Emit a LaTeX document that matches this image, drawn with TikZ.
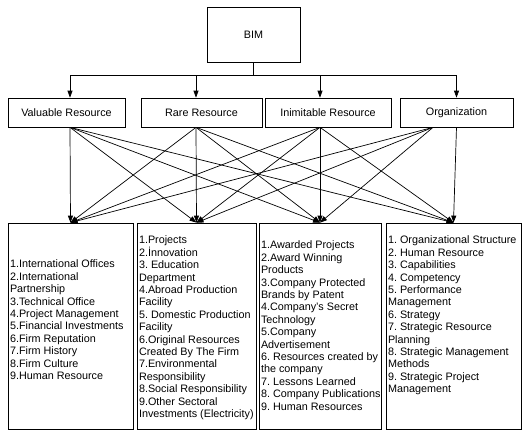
\documentclass[tikz,border=0pt]{standalone}
\usepackage{fontspec}
\setmainfont{Liberation Sans}
\usetikzlibrary{positioning,arrows.meta}

\begin{document}
\begin{tikzpicture}[x=1pt, y=-1pt, line width=0.7pt,
    font=\fontsize{10.8}{12.4}\selectfont\frenchspacing,
    box node/.style={draw, rectangle, inner sep=0pt},
    list node/.style={align=left, inner sep=0pt},
    link/.style={-{Triangle[length=7pt, width=5pt]}}]

    \useasboundingbox (0,0) rectangle (522,432);

    % Top node
    \node[box node, minimum width=93pt, minimum height=55pt] (bim) at (253.5,34.5) {BIM};

    % Resource nodes
    \node[box node, minimum width=117pt, minimum height=29pt] (vr) at (66.5,112.5) {Valuable Resource};
    \node[box node, minimum width=121pt, minimum height=29pt] (rr) at (201.5,112.5) {Rare Resource};
    \node[box node, minimum width=126pt, minimum height=29pt] (ir) at (328,112.5) {Inimitable Resource};
    \node[box node, minimum width=113pt, minimum height=29pt] (org) at (456.5,112.5) {Organization};

    % List boxes
    \node[box node, minimum width=125pt, minimum height=206pt] (l1) at (70.5,326) {};
    \node[box node, minimum width=119pt, minimum height=206pt] (l2) at (196.5,326) {};
    \node[box node, minimum width=122pt, minimum height=206pt] (l3) at (320,326) {};
    \node[box node, minimum width=135pt, minimum height=206pt] (l4) at (453.5,326) {};

    \node[list node, below right=37pt and 2pt of l1.north west] (t1) {1.International Offices\\2.International\\Partnership\\3.Technical Office\\4.Project Management\\5.Financial Investments\\6.Firm Reputation\\7.Firm History\\8.Firm Culture\\9.Human Resource};
    \node[list node, below right=13pt and 2pt of l2.north west] (t2) {1.Projects\\2.İnnovation\\3. Education\\Department\\4.Abroad Production\\Facility\\5. Domestic Production\\Facility\\6.Original Resources\\Created By The Firm\\7.Environmental\\Responsibility\\8.Social Responsibility\\9.Other Sectoral\\Investments (Electricity)};
    \node[list node, below right=18pt and 2pt of l3.north west] (t3) {1.Awarded Projects\\2.Award Winning\\Products\\3.Company Protected\\Brands by Patent\\4.Company's Secret\\Technology\\5.Company\\Advertisement\\6. Resources created by\\the company\\7. Lessons Learned\\8. Company Publications\\9. Human Resources};
    \node[list node, below right=13pt and 2pt of l4.north west] (t4) {1. Organizational Structure\\2. Human Resource\\3. Capabilities\\4. Competency\\5. Performance\\Management\\6. Strategy\\7. Strategic Resource\\Planning\\8. Strategic Management\\Methods\\9. Strategic Project\\Management};

    % Source points
    \coordinate (s1) at ([xshift=3.5pt]vr.south);
    \coordinate (s2) at ([xshift=-5.5pt]rr.south);
    \coordinate (s3) at ([xshift=-8pt]ir.south);
    \coordinate (s4) at ([xshift=-23.5pt]org.south);

    % BIM to resources
    \draw[line width=1.4pt] (bim.south) -- ++(0,13) coordinate (split);
    \draw (split -| s1) -- (split -| org);
    \foreach \s in {1,2,3}
        \draw[link] (split -| s\s) -- (s\s |- vr.north);
    \draw[link] (split -| org) -- (org.north);

    % Resources to lists
    \foreach \s in {1,2,3}
        \foreach \t in {1,...,4}
            \draw[link] (s\s) -- (l\t.north);
    \foreach \t in {1,2,3}
        \draw[link] (s4) -- (l\t.north);
    \draw[link] (org.south) -- (l4.north);

\end{tikzpicture}
\end{document}
